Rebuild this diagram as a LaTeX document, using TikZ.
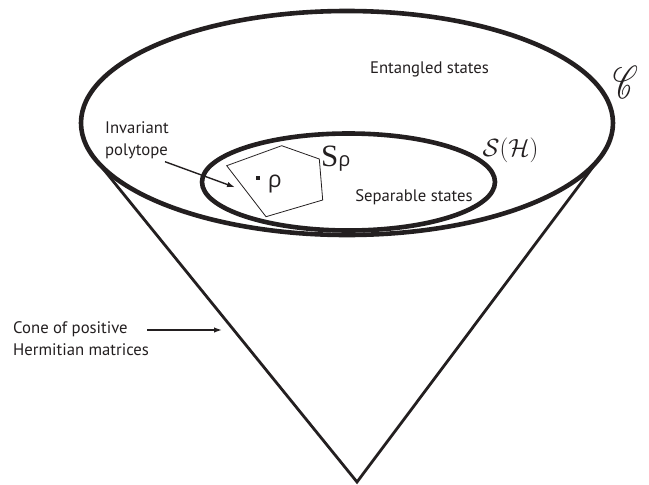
\documentclass[tikz,border=0pt]{standalone}
\usepackage{graphicx}
\usepackage{fontspec}
\setmainfont{PT Sans}
\newfontfamily\grk{Open Sans}
\newfontfamily\serifS{Liberation Serif}
\usepackage{mathrsfs}
\usetikzlibrary{shapes.geometric,arrows.meta}
\definecolor{ink}{HTML}{231F20}
\begin{document}
\begin{tikzpicture}[x=1pt,y=-1pt,
  bigell/.style={draw=ink, ellipse, line width=4.6pt, inner sep=0pt, outer sep=0pt},
  conel/.style={draw=ink, line width=2.8pt, line join=miter},
  poly/.style={draw=ink, line width=0.8pt, line join=miter},
  pointer/.style={draw=ink, line width=1.4pt, -{Latex[length=8pt,width=5.5pt]}},
  lbl/.style={text=ink, inner sep=0pt, font=\fontsize{16.7}{22}\selectfont},
]
\useasboundingbox (0,0) rectangle (649,485);
\node[bigell, minimum width=532pt, minimum height=224pt] (outer) at (347,123) {};
\node[bigell, minimum width=293pt, minimum height=97pt] (inner) at (348.5,182) {};
\coordinate (apex) at (357,482);
\coordinate (tl) at (95.3,159.2);
\coordinate (tr) at (600.7,156.7);
\draw[conel] (tl) -- (apex) -- (tr);
\coordinate (p1) at (226.7,165.7);
\coordinate (p2) at (281.7,145.7);
\coordinate (p3) at (319.3,159);
\coordinate (p4) at (322.7,200);
\coordinate (p5) at (266,216.7);
\draw[poly] (p1) -- (p2) -- (p3) -- (p4) -- (p5) -- cycle;
\node[fill=ink, minimum size=4pt, inner sep=0pt] (dot) at (258.3,178.3) {};
\node[text=ink, inner sep=0pt, font=\grk\fontsize{23}{23}\selectfont] (rho) at (274.7,184) {ρ};
\node[text=ink, inner sep=0pt, anchor=base west, font=\serifS\fontsize{31}{31}\selectfont] (srho) at (321,166.7) {S{\grk\fontsize{20}{20}\selectfont ρ}};
\node[lbl, anchor=base] (ent) at (429.5,73.3) {Entangled states};
\node[lbl, anchor=base] (sep) at (414,201.7) {Separable states};
\node[text=ink, inner sep=0pt] (sh) at (510.5,150) {\fontsize{24}{24}\selectfont$\mathcal{S}(\mathcal{H})$};
\node[text=ink, inner sep=0pt] (cc) at (625.5,82.5) {\fontsize{10}{10}\selectfont\scalebox{3}[4.6]{$\mathscr{C}$}};
\node[lbl, align=left, anchor=north west] (inv) at (105,121.7) {Invariant\\polytope};
\node[lbl, align=left, anchor=north west] (cone) at (13,321.5) {Cone of positive\\Hermitian matrices};
\coordinate (invfrom) at (165,161.7);
\coordinate (invto) at (235,187.3);
\draw[pointer] (invfrom) -- (invto);
\coordinate (conefrom) at (147,330);
\coordinate (coneto) at (222,330);
\draw[pointer] (conefrom) -- (coneto);
\end{tikzpicture}
\end{document}
